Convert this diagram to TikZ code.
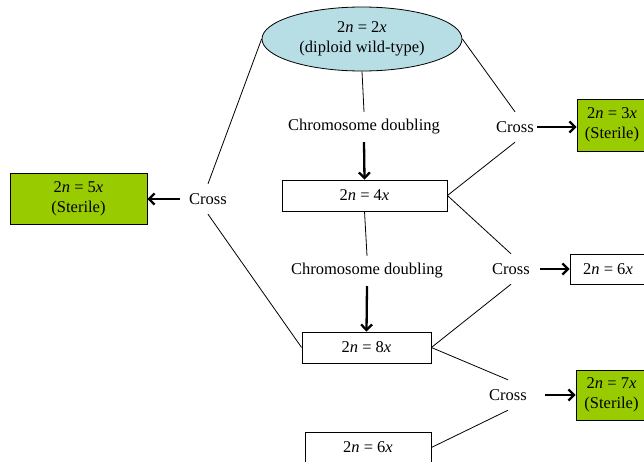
\documentclass[tikz,border=0pt]{standalone}
\usepackage{fontspec}
\setmainfont{Liberation Serif}
\usetikzlibrary{arrows.meta,shapes.geometric}
\definecolor{ellblue}{RGB}{183,222,229}
\definecolor{stgreen}{RGB}{153,204,0}
\tikzset{
  every node/.style={font=\fontsize{16.5}{20}\selectfont},
  box/.style={draw, line width=0.8pt, inner sep=0pt, align=center},
  sterile/.style={box, fill=stgreen},
  lbl/.style={inner sep=0pt, minimum height=30pt},
  conn/.style={line width=0.8pt},
  bigarrow/.style={line width=2.3pt, -{Straight Barb[length=5.5pt,width=11pt]}},
}
\newcommand{\ploidy}[2]{2\textit{n} = #1\textit{x}}
\begin{document}
\begin{tikzpicture}[x=1pt,y=-1pt]
\useasboundingbox (0,0) rectangle (644,461);
\node[ellipse, draw, line width=0.8pt, fill=ellblue, minimum width=200pt, minimum height=64pt, inner sep=0pt, align=center] (ell) at (362,39) {\ploidy{2}{}\\(diploid wild-type)};
\node[lbl] (cd1) at (364,127) {Chromosome doubling};
\node[box, minimum width=165pt, minimum height=31pt] (b4) at (364.5,195.5) {\ploidy{4}{}};
\node[lbl] (cd2) at (367,271) {Chromosome doubling};
\node[box, minimum width=129pt, minimum height=31pt] (b8) at (366.5,347.5) {\ploidy{8}{}};
\node[box, minimum width=126pt, minimum height=31pt] (b6b) at (368,447.5) {\ploidy{6}{}};
\node[lbl] (crossL) at (208,199) {Cross};
\node[sterile, minimum width=137pt, minimum height=51pt] (b5) at (78.5,198.5) {\ploidy{5}{}\\(Sterile)};
\node[lbl] (cross1) at (515,127) {Cross};
\node[sterile, minimum width=70pt, minimum height=52pt] (b3) at (612,125) {\ploidy{3}{}\\(Sterile)};
\node[lbl] (cross2) at (511,269) {Cross};
\node[box, minimum width=76pt, minimum height=30pt] (b6) at (608,269) {\ploidy{6}{}};
\node[lbl] (cross3) at (508,395) {Cross};
\node[sterile, minimum width=71pt, minimum height=50pt] (b7) at (611.5,395) {\ploidy{7}{}\\(Sterile)};

\draw[conn] (ell.south) -- (cd1.north);
\draw[bigarrow] (cd1.south) -- (b4.north);
\draw[conn] (b4.south) -- (cd2.north);
\draw[bigarrow] (cd2.south) -- (b8.north);

\draw[conn] (ell.west) -- (crossL.north);
\draw[conn] (crossL.south) -- (b8.west);
\draw[bigarrow] ([xshift=-9pt]crossL.west) -- (crossL.west -| b5.east);

\draw[conn] (ell.east) -- (cross1.north);
\draw[conn] (b4.east) -- (cross1.south);
\draw[bigarrow] ([xshift=3pt]cross1.east) -- (cross1.east -| b3.west);

\draw[conn] (b4.east) -- (cross2.north);
\draw[conn] (cross2.south) -- (b8.east);
\draw[bigarrow] ([xshift=10pt]cross2.east) -- (cross2.east -| b6.west);

\draw[conn] (b8.east) -- (cross3.north);
\draw[conn] (cross3.south) -- (b6b.east);
\draw[bigarrow] ([xshift=18pt]cross3.east) -- (cross3.east -| b7.west);
\end{tikzpicture}
\end{document}
